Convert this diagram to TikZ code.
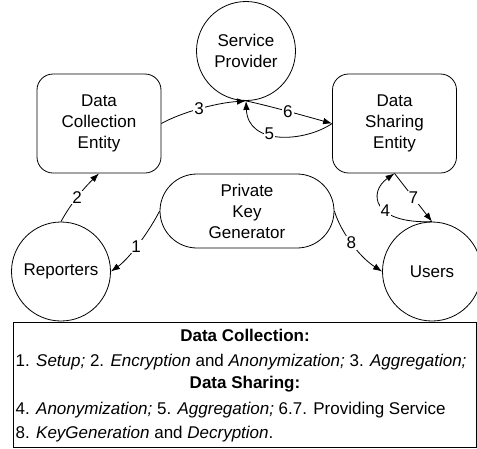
\documentclass[tikz,border=0pt]{standalone}
\usepackage{fontspec}
\setmainfont{Liberation Sans}
\usetikzlibrary{arrows.meta,shapes.misc}

\tikzset{
  every node/.style={font=\fontsize{17}{21}\selectfont},
  entity/.style={draw, line width=0.8pt, rounded corners=16pt,
    minimum width=124pt, minimum height=99pt, align=center, inner sep=0pt},
  party/.style={draw, circle, line width=0.8pt, minimum size=99pt,
    inner sep=0pt, align=center},
  keygen/.style={draw, rounded rectangle, line width=0.8pt,
    minimum width=174pt, minimum height=74pt, align=center, inner sep=0pt},
  flow/.style={line width=0.8pt, -{Latex[length=9pt,width=6.5pt]}},
  num/.style={fill=white, inner sep=1pt},
  legendbox/.style={draw, line width=0.8pt, minimum width=463.5pt,
    minimum height=125.5pt, inner sep=0pt},
  legendline/.style={inner sep=0pt},
}

\begin{document}
\begin{tikzpicture}[x=1pt,y=-1pt]
  \useasboundingbox (0,0) rectangle (477,448);
  \clip (0,0) rectangle (477,448);

  % parties and entities
  \node[party]  (sp)  at (246,51)    {Service\\Provider};
  \node[entity] (dce) at (99,123.5)  {Data\\Collection\\Entity};
  \node[entity] (dse) at (394.5,123.5) {Data\\Sharing\\Entity};
  \node[keygen] (pkg) at (247,211)   {Private\\Key\\Generator};
  \node[party]  (rep) at (61,271.5)  {Reporters};
  \node[party]  (usr) at (432,271.5) {Users};

  % protocol flows
  \draw[flow] (pkg.west) .. controls (150,230) and (130,258) .. (rep.east)
    node[num,pos=0.55] {1};
  \draw[flow] (rep.north) .. controls (70,205) and (82,190) .. (dce.south)
    node[num,pos=0.5] {2};
  \draw[flow] (dce.east) .. controls (180,113) and (215,103) .. (sp.south)
    node[num,pos=0.5] {3};
  \draw[flow] (usr.north) .. controls (372,224) and (368,192) .. (dse.south)
    node[num,pos=0.4] {4};
  \draw[flow] (dse.west) .. controls (305,142) and (248,146) .. (sp.south)
    node[num,pos=0.6] {5};
  \draw[flow] (sp.south) .. controls (270,106) and (305,116) .. (dse.west)
    node[num,pos=0.5] {6};
  \draw[flow] (dse.south) -- (usr.north)
    node[num,midway] {7};
  \draw[flow] (pkg.east) .. controls (340,230) and (358,256) .. (usr.west)
    node[num,pos=0.5] {8};

  % legend
  \node[legendbox] (legend) at (244.75,384.75) {};
  \node[legendline,anchor=base] (h1) at (245,341) {\textbf{Data Collection:}};
  \node[legendline,anchor=base west] (l1) at (15.5,366)
    {1. \textit{Setup;} 2. \textit{Encryption} and \textit{Anonymization;} 3. \textit{Aggregation;}};
  \node[legendline,anchor=base] (h2) at (245,388) {\textbf{Data Sharing:}};
  \node[legendline,anchor=base west] (l2) at (15.5,414)
    {4. \textit{Anonymization;} 5. \textit{Aggregation;} 6.7. Providing Service};
  \node[legendline,anchor=base west] (l3) at (15.5,438)
    {8. \textit{KeyGeneration} and \textit{Decryption}.};
\end{tikzpicture}
\end{document}
